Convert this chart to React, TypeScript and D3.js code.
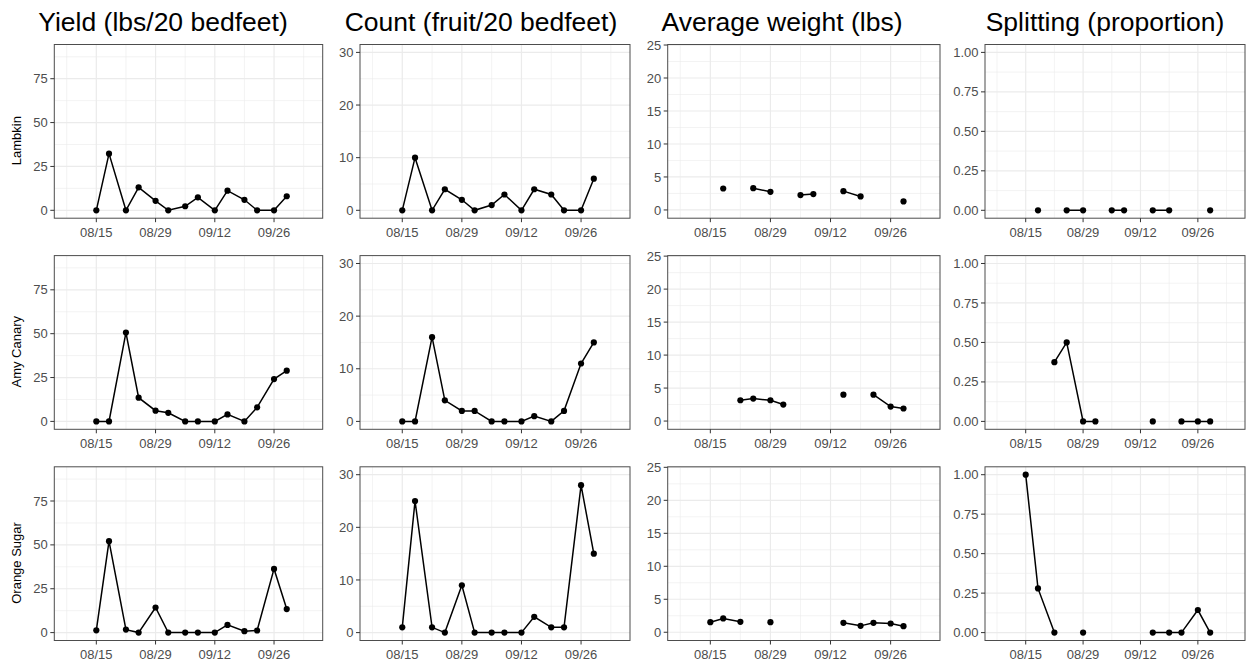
import React, { useEffect, useRef } from 'react';
import * as d3 from 'd3';

// harvest dates (2022), twice a week
const harvestDates = ['08/15', '08/18', '08/22', '08/25', '08/29', '09/01', '09/05', '09/08', '09/12', '09/15', '09/19', '09/22', '09/26', '09/29'];
const dateTicks = ['08/15', '08/29', '09/12', '09/26'];
const varieties = ['Lambkin', 'Amy Canary', 'Orange Sugar'];
const metricTitles = ['Yield (lbs/20 bedfeet)', 'Count (fruit/20 bedfeet)', 'Average weight (lbs)', 'Splitting (proportion)'];

// null = nothing harvested, so no weight / splitting value
const lambkinYield = [0, 32.3, 0, 13.1, 5.4, 0, 2.3, 7.4, 0, 11.2, 6.0, 0, 0, 8.0];
const lambkinCount = [0, 10, 0, 4, 2, 0, 1, 3, 0, 4, 3, 0, 0, 6];
const lambkinWeight = [null, 3.25, null, 3.3, 2.75, null, 2.25, 2.4, null, 2.85, 2.05, null, null, 1.3];
const lambkinSplit = [null, 0, null, 0, 0, null, 0, 0, null, 0, 0, null, null, 0];

const amyYield = [0, 0, 50.6, 13.5, 6.1, 4.9, 0, 0, 0, 4.0, 0, 8.0, 24.1, 28.9];
const amyCount = [0, 0, 16, 4, 2, 2, 0, 0, 0, 1, 0, 2, 11, 15];
const amyWeight = [null, null, 3.15, 3.4, 3.15, 2.5, null, null, null, 4.0, null, 4.0, 2.2, 1.9];
const amySplit = [null, null, 0.375, 0.5, 0, 0, null, null, null, 0, null, 0, 0, 0];

const orangeYield = [1.3, 52.1, 1.7, 0, 14.3, 0, 0, 0, 0, 4.4, 0.8, 1.2, 36.3, 13.4];
const orangeCount = [1, 25, 1, 0, 9, 0, 0, 0, 0, 3, 1, 1, 28, 15];
const orangeWeight = [1.53, 2.09, 1.58, null, 1.53, null, null, null, null, 1.43, 0.97, 1.43, 1.33, 0.92];
const orangeSplit = [1, 0.28, 0, null, 0, null, null, null, null, 0, 0, 0, 0.143, 0];

const yTicks = [
  [0, 25, 50, 75],
  [0, 10, 20, 30],
  [0, 5, 10, 15, 20, 25],
  [0, 0.25, 0.5, 0.75, 1],
];
const yDomains = [[-4.5, 94.5], [-1.5, 31.5], [-1.25, 25.08], [-0.05, 1.05]];

const series = [
  [lambkinYield, lambkinCount, lambkinWeight, lambkinSplit],
  [amyYield, amyCount, amyWeight, amySplit],
  [orangeYield, orangeCount, orangeWeight, orangeSplit],
];

const parseDate = (s: string) => d3.timeParse('%Y/%m/%d')('2022/' + s) as Date;

const W = 1247;
const H = 665;
const colX = [[54.3, 322.7], [360, 630], [667.7, 940], [985, 1245]];
const rowTop = [44.5, 255.6, 466.8];
const panelH = 173.7;
const titleX = [163, 481, 782, 1105];
const font = 'Liberation Sans, Arial, sans-serif';

const App = () => {
  const ref = useRef<SVGSVGElement>(null);

  useEffect(() => {
    const svg = d3.select(ref.current);
    svg.selectAll('*').remove();

    const dates = harvestDates.map(parseDate);
    const majorX = dateTicks.map(parseDate);
    const minorX = majorX.map(d => d3.timeDay.offset(d, -7)).concat([d3.timeDay.offset(majorX[majorX.length - 1], 7)]);
    const day = 864e5;
    const start = majorX[0].getTime();
    const xDomain = [new Date(start - 9.93 * day), new Date(start + 53.5 * day)];

    svg.append('rect').attr('width', W).attr('height', H).attr('fill', '#fff');

    // column titles
    metricTitles.forEach((t, c) => {
      svg.append('text')
        .attr('x', titleX[c])
        .attr('y', 31)
        .attr('text-anchor', 'middle')
        .style('font-family', font)
        .style('font-size', '26.5px')
        .attr('fill', '#000')
        .text(t);
    });

    varieties.forEach((variety, r) => {
      const top = rowTop[r];
      const bottom = top + panelH;

      // row label
      svg.append('text')
        .attr('transform', `translate(16.5,${(top + bottom) / 2 + 9.3}) rotate(-90)`)
        .attr('text-anchor', 'middle')
        .attr('dy', '0.35em')
        .style('font-family', font)
        .style('font-size', '13px')
        .attr('fill', '#000')
        .text(variety);

      series[r].forEach((values, c) => {
        const [left, right] = colX[c];
        const x = d3.scaleTime().domain(xDomain).range([left, right]);
        const y = d3.scaleLinear().domain(yDomains[c]).range([bottom, top]);
        const ticks = yTicks[c];
        const step = ticks[1] - ticks[0];
        const minorY = ticks.map(t => t + step / 2).filter(v => v < yDomains[c][1]);
        const g = svg.append('g');

        g.append('rect')
          .attr('x', left).attr('y', top)
          .attr('width', right - left).attr('height', panelH)
          .attr('fill', '#fff');

        // grid
        g.selectAll('.minor-x').data(minorX).join('line')
          .attr('x1', d => x(d)).attr('x2', d => x(d))
          .attr('y1', top).attr('y2', bottom)
          .attr('stroke', '#ebebeb').attr('stroke-width', 0.6);
        g.selectAll('.minor-y').data(minorY).join('line')
          .attr('x1', left).attr('x2', right)
          .attr('y1', d => y(d)).attr('y2', d => y(d))
          .attr('stroke', '#ebebeb').attr('stroke-width', 0.6);
        g.selectAll('.major-x').data(majorX).join('line')
          .attr('x1', d => x(d)).attr('x2', d => x(d))
          .attr('y1', top).attr('y2', bottom)
          .attr('stroke', '#ebebeb').attr('stroke-width', 1.2);
        g.selectAll('.major-y').data(ticks).join('line')
          .attr('x1', left).attr('x2', right)
          .attr('y1', d => y(d)).attr('y2', d => y(d))
          .attr('stroke', '#ebebeb').attr('stroke-width', 1.2);

        // data
        const pts = dates.map((d, i) => ({ date: d, value: values[i] as number | null }));
        const line = d3.line<{ date: Date; value: number | null }>()
          .defined(d => d.value != null)
          .x(d => x(d.date))
          .y(d => y(d.value as number));
        g.append('path')
          .datum(pts)
          .attr('d', line)
          .attr('fill', 'none')
          .attr('stroke', '#000')
          .attr('stroke-width', 1.5);
        g.selectAll('circle').data(pts.filter(p => p.value != null)).join('circle')
          .attr('cx', d => x(d.date))
          .attr('cy', d => y(d.value as number))
          .attr('r', 3.1)
          .attr('fill', '#000');

        // border
        g.append('rect')
          .attr('x', left).attr('y', top)
          .attr('width', right - left).attr('height', panelH)
          .attr('fill', 'none')
          .attr('stroke', '#4d4d4d')
          .attr('stroke-width', 1);

        // x axis
        majorX.forEach((d, i) => {
          g.append('line')
            .attr('x1', x(d)).attr('x2', x(d))
            .attr('y1', bottom).attr('y2', bottom + 4)
            .attr('stroke', '#333').attr('stroke-width', 1);
          g.append('text')
            .attr('x', x(d)).attr('y', bottom + 18.3)
            .attr('text-anchor', 'middle')
            .style('font-family', font).style('font-size', '13px')
            .attr('fill', '#4d4d4d')
            .text(dateTicks[i]);
        });

        // y axis
        const fmt = c === 3 ? d3.format('.2f') : d3.format('d');
        ticks.forEach(t => {
          g.append('line')
            .attr('x1', left - 4).attr('x2', left)
            .attr('y1', y(t)).attr('y2', y(t))
            .attr('stroke', '#333').attr('stroke-width', 1);
          g.append('text')
            .attr('x', left - 6.5).attr('y', y(t))
            .attr('dy', '0.35em')
            .attr('text-anchor', 'end')
            .style('font-family', font).style('font-size', '13px')
            .attr('fill', '#4d4d4d')
            .text(fmt(t));
        });
      });
    });
  }, []);

  return (
    <svg
      ref={ref}
      width={W}
      height={H}
      style={{ position: 'absolute', left: 0, top: 0, display: 'block' }}
    />
  );
};

export default App;
